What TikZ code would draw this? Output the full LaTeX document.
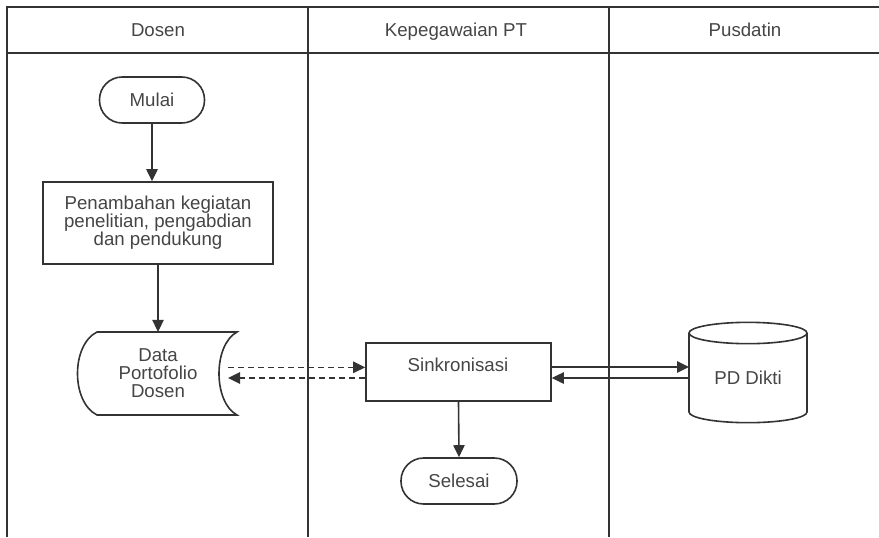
\documentclass[tikz,border=0pt]{standalone}
\usepackage{fontspec}
\setmainfont{Liberation Sans}
\usetikzlibrary{arrows.meta}
\definecolor{linegray}{HTML}{333333}
\definecolor{textgray}{HTML}{454545}

\begin{document}
\begin{tikzpicture}[x=0.75pt,y=-0.75pt,
	font=\fontsize{14}{13.5}\selectfont,
	every node/.style={text=textgray,align=center,inner sep=0pt},
	line/.style={draw=linegray,line width=1.2pt},
	flow/.style={line,-{Triangle[length=9pt,width=8.5pt]}},
	term/.style={line,rounded corners=17pt,minimum height=34.5pt},
	proc/.style={line,rectangle},
	lanehead/.style={anchor=base}]
	\useasboundingbox (0,0) rectangle (879,537);

	% lanes
	\draw[line,line width=1.4pt] (7,537) -- (7,7) -- (879,7);
	\draw[line,line width=1.4pt] (7,53) -- (879,53);
	\draw[line,line width=1.4pt] (308,7) -- (308,537);
	\draw[line,line width=1.4pt] (609,7) -- (609,537);
	\node[lanehead] (hdosen) at (158,36) {Dosen};
	\node[lanehead] (hkepeg) at (456,36) {Kepegawaian PT};
	\node[lanehead] (hpusdatin) at (745,36) {Pusdatin};

	\node[term,minimum width=78.75pt] (mulai) at (152,100) {Mulai};
	\node[proc,minimum width=172.5pt,minimum height=61.5pt] (tambah) at (158,223) {Penambahan kegiatan\\penelitian, pengabdian\\dan pendukung};

	\draw[line] (97,332) -- (237,332) .. controls (213,345) and (213,402) .. (237,415) -- (97,415) .. controls (71,402) and (71,345) .. (97,332) -- cycle;
	\node[minimum width=120pt,minimum height=62pt] (data) at (158,373.5) {Data\\Portofolio\\Dosen};
	\coordinate (dataR) at (228,372);

	\node[proc,minimum width=138.75pt,minimum height=43.5pt] (sink) at (458.5,372) {};
	\node (sinktext) at (458,365) {Sinkronisasi};
	\node[term,minimum width=87pt] (selesai) at (459,481) {Selesai};

	\draw[line] (689,333) -- (689,412) arc (180:360:44.25pt and 8pt) -- (807,333);
	\draw[line] (748,333) ellipse (44.25pt and 8pt);
	\node (pddikti) at (748,378) {PD Dikti};
	\coordinate (cylW) at (689,372);

	\draw[flow] (mulai.south) -- (mulai.south |- tambah.north);
	\draw[flow] (tambah.south) -- (data.north);
	\draw[flow,dash pattern=on 4.5pt off 3pt] ([yshift=3.5pt]dataR) -- ([yshift=3.5pt]sink.west);
	\draw[flow,dash pattern=on 4.5pt off 3pt] ([yshift=-4.5pt]sink.west) -- ([yshift=-4.5pt]dataR);
	\draw[flow] ([yshift=3.75pt]sink.east) -- ([yshift=3.75pt]cylW);
	\draw[flow] ([yshift=-4.5pt]cylW) -- ([yshift=-4.5pt]sink.east);
	\draw[flow] (sink.south) -- (selesai.north);
\end{tikzpicture}
\end{document}
